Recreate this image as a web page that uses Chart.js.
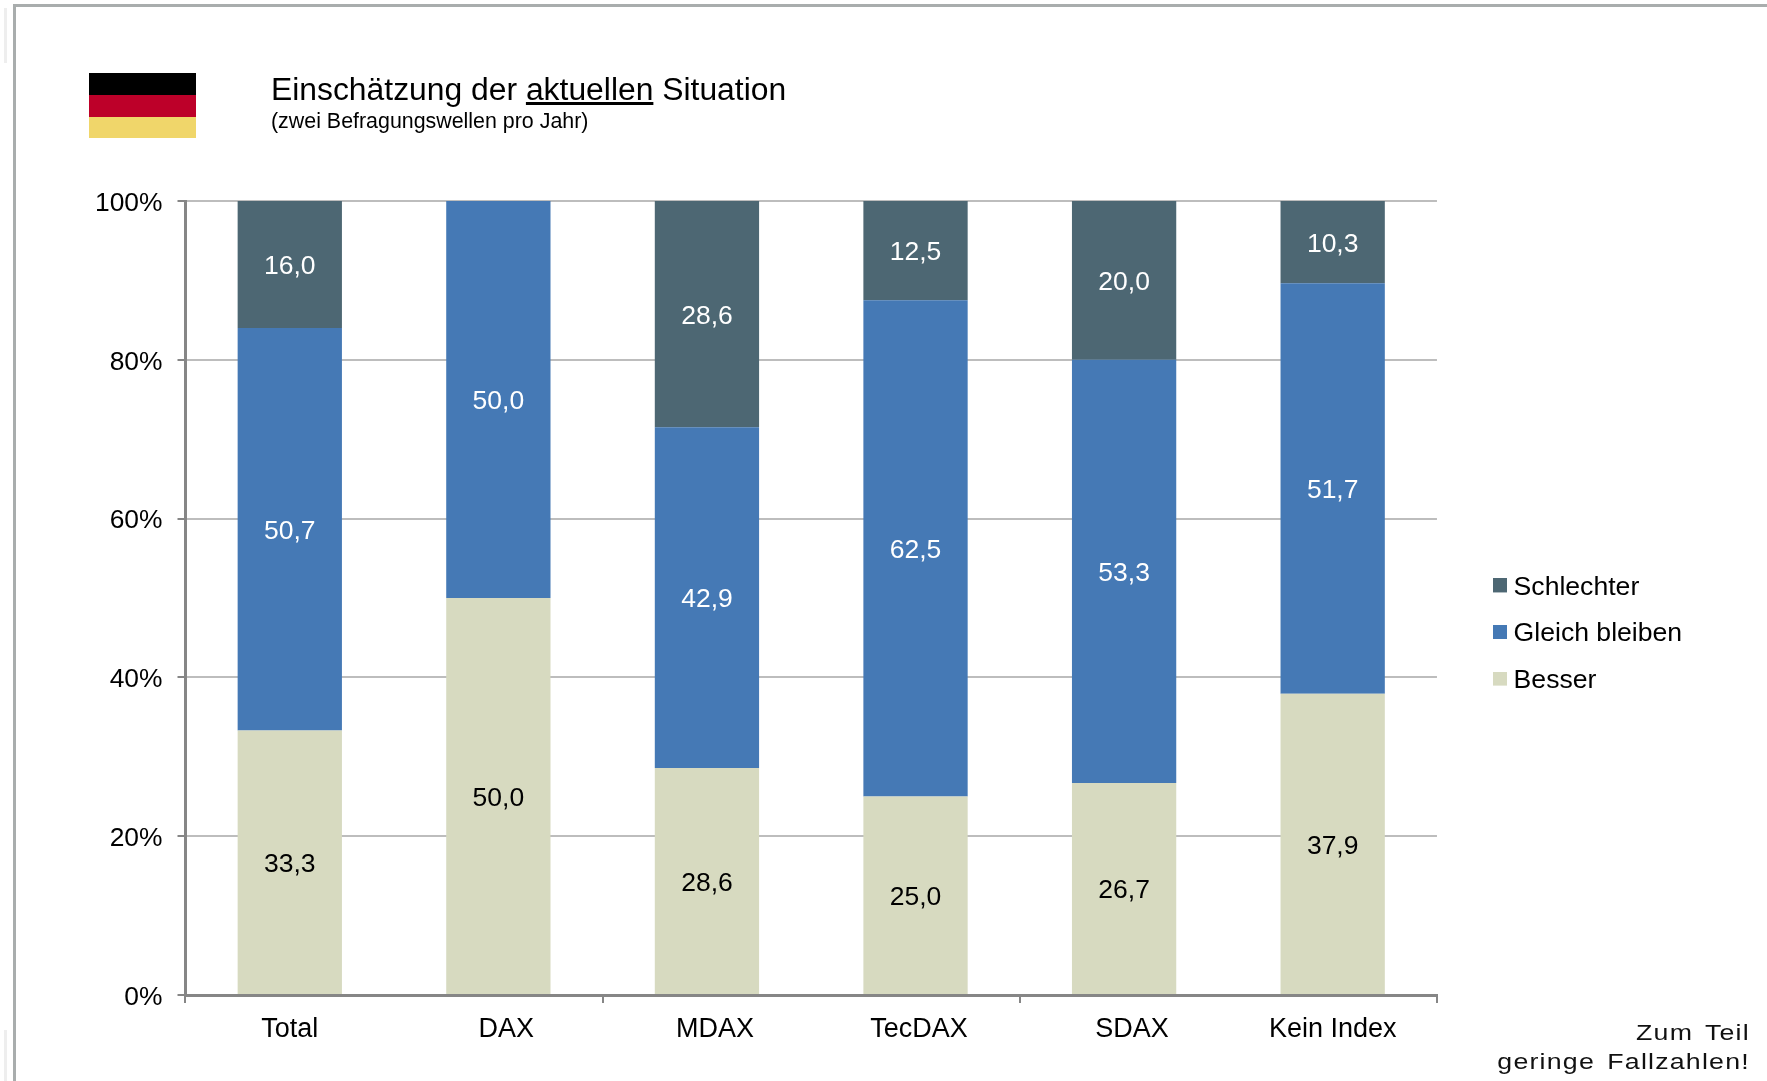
<!DOCTYPE html>
<html lang="de"><head><meta charset="utf-8">
<style>
html,body{margin:0;padding:0;background:#fff;width:1767px;height:1081px;overflow:hidden}
#c{position:absolute;left:0;top:0}
.abs{position:absolute}
.t{font-family:"Liberation Sans",Arial,sans-serif;color:#000;white-space:nowrap}
</style>
<script src="https://cdn.jsdelivr.net/npm/chart.js@4/dist/chart.umd.min.js"></script>
</head><body>
<div class="abs" style="left:13px;top:4px;width:1754px;height:3px;background:#a9adad"></div>
<div class="abs" style="left:13px;top:4px;width:3px;height:1077px;background:#a9adad"></div>
<div class="abs" style="left:4px;top:8px;width:3px;height:55px;background:#eeeeee"></div>
<div class="abs" style="left:4px;top:1030px;width:3px;height:51px;background:#eeeeee"></div>
<div class="abs" style="left:89px;top:73px;width:107px;height:22px;background:#000"></div>
<div class="abs" style="left:89px;top:95px;width:107px;height:22px;background:#bd0029"></div>
<div class="abs" style="left:89px;top:117px;width:107px;height:21px;background:#f0d66a"></div>
<canvas id="c" width="1767" height="1081"></canvas>
<div class="abs t" style="left:271px;top:70px;font-size:31.85px;line-height:38px">Einschätzung der <u>aktuellen</u> Situation</div>
<div class="abs t" style="left:271px;top:109px;font-size:21.4px;line-height:24px">(zwei Befragungswellen pro Jahr)</div>
<div class="abs t" style="right:17px;top:1018px;font-size:22px;line-height:29px;text-align:right;letter-spacing:1px;word-spacing:3px;color:#111;transform:scaleX(1.215);transform-origin:100% 50%">Zum Teil<br>geringe Fallzahlen!</div>
<script>
const categories = ["Total","DAX","MDAX","TecDAX","SDAX","Kein Index"];
const besser = [33.3,50.0,28.6,25.0,26.7,37.93];
const gleich = [50.7,50.0,42.9,62.5,53.3,51.72];
const schlechter = [16.0,0,28.6,12.5,20.0,10.34];
const yTicks = [0,20,40,60,80,100];
const labelNudge = [0,8,8,3.5,8,0];
const FONT = '"Liberation Sans", Arial, sans-serif';

function swatch(color){
  const s = document.createElement('canvas');
  s.width = 14; s.height = 18;
  const g = s.getContext('2d');
  g.fillStyle = color; g.fillRect(0,0,14,14);
  return s;
}

const barLabels = {
  id:'barLabels',
  afterDatasetsDraw(chart){
    const ctx = chart.ctx;
    ctx.save();
    ctx.font = '26.5px ' + FONT;
    ctx.textAlign = 'center';
    ctx.textBaseline = 'middle';
    chart.data.datasets.forEach((ds,i)=>{
      chart.getDatasetMeta(i).data.forEach((bar,j)=>{
        const v = ds.data[j];
        if(!v) return;
        const p = bar.getProps(['x','y','base'],true);
        ctx.fillStyle = ds.labelColor;
        ctx.fillText(v.toFixed(1).replace('.',','), p.x, (p.y+p.base)/2 + 2.5);
      });
    });
    ctx.restore();
  }
};

const placement = {
  id:'placement',
  afterLayout(chart){
    const l = chart.legend;
    const dx = 1479.3 - l.left;
    const dy = 634 - (l.top + l.bottom)/2;
    l.left += dx; l.right += dx; l.top += dy; l.bottom += dy;
    chart.scales.x.getLabelItems().forEach((it,i)=>{
      it.options.translation[0] += labelNudge[i];
    });
    chart.scales.y.getLabelItems().forEach(it=>{
      it.options.translation[1] += 2.5;
    });
  }
};

new Chart(document.getElementById('c'),{
  type:'bar',
  data:{labels:categories,datasets:[
    {label:'Besser',data:besser,backgroundColor:'#d7dac0',labelColor:'#000'},
    {label:'Gleich bleiben',data:gleich,backgroundColor:'#4579b5',labelColor:'#fff'},
    {label:'Schlechter',data:schlechter,backgroundColor:'#4d6773',labelColor:'#fff'}
  ]},
  options:{
    responsive:false,animation:false,
    devicePixelRatio:1,
    datasets:{bar:{barPercentage:0.5,categoryPercentage:1}},
    layout:{padding:{top:201,bottom:10,left:0,right:117.2}},
    plugins:{
      title:{display:false},tooltip:{enabled:false},
      legend:{
        position:'right',reverse:true,
        labels:{
          usePointStyle:true,pointStyleWidth:1,padding:20,color:'#000',
          font:{family:FONT,size:26.6},
          generateLabels(chart){
            return Chart.defaults.plugins.legend.labels.generateLabels(chart).map(it=>{
              it.pointStyle = swatch(chart.data.datasets[it.datasetIndex].backgroundColor);
              return it;
            });
          }
        }
      }
    },
    scales:{
      x:{
        stacked:true,
        afterFit(s){s.height=76;},
        border:{color:'#868686',width:3,z:1},
        grid:{
          offset:true,drawOnChartArea:false,tickLength:8,lineWidth:2,
          tickColor(ctx){return (ctx.index===undefined||ctx.index%2===0)?'#868686':'rgba(0,0,0,0)';}
        },
        ticks:{color:'#000',font:{family:FONT,size:27},padding:10,autoSkip:false,maxRotation:0}
      },
      y:{
        stacked:true,min:0,max:100,
        afterFit(s){s.width=185.5;},
        afterBuildTicks(s){s.ticks=yTicks.map(v=>({value:v}));},
        border:{color:'#868686',width:3},
        grid:{color:'#bdbdbd',lineWidth:2,tickLength:8,tickColor:'#868686'},
        ticks:{color:'#000',font:{family:FONT,size:26.4},padding:15,callback:v=>v+'%'}
      }
    }
  },
  plugins:[barLabels,placement]
});
</script>
</body></html>
